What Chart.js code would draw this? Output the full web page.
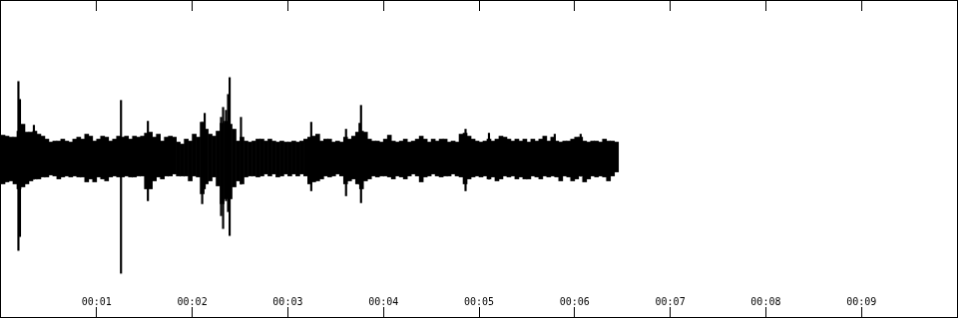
<!DOCTYPE html>
<html>
<head>
<meta charset="utf-8">
<script src="https://cdn.jsdelivr.net/npm/chart.js@4.4.0/dist/chart.umd.min.js"></script>
<style>
  html, body { margin: 0; padding: 0; background: #fff; }
  #wave { display: block; border: 1px solid #000; }
</style>
</head>
<body>
<canvas id="wave" width="958" height="318"></canvas>
<script>
// x axis: seconds, 0..10
const tickSeconds = [1, 2, 3, 4, 5, 6, 7, 8, 9];
const tickLabels = ['00:01', '00:02', '00:03', '00:04', '00:05', '00:06', '00:07', '00:08', '00:09'];

// waveform envelope, one bucket every 1/24 s (amplitude, full scale = 159)
const bucketSec = 1 / 24;
const envHigh = [
  24, 23, 22, 22, 28, 35, 27, 27, 28, 25,
  23, 20, 17, 18, 18, 20, 18, 17, 20, 22,
  20, 25, 23, 18, 20, 23, 22, 18, 20, 23,
  22, 23, 20, 23, 22, 23, 26, 27, 22, 25,
  18, 22, 23, 22, 17, 15, 20, 18, 25, 22,
  37, 30, 25, 23, 28, 36, 38, 35, 30, 18,
  22, 18, 17, 18, 20, 20, 18, 20, 18, 17,
  18, 17, 17, 18, 17, 18, 20, 22, 23, 25,
  18, 20, 20, 17, 18, 17, 22, 20, 23, 27,
  28, 27, 20, 18, 18, 17, 20, 24, 18, 17,
  18, 20, 17, 18, 20, 23, 20, 17, 20, 18,
  20, 20, 17, 18, 17, 25, 26, 23, 20, 18,
  17, 18, 20, 18, 20, 23, 22, 20, 18, 20,
  18, 20, 17, 20, 18, 20, 23, 18, 22, 18,
  17, 18, 18, 20, 22, 22, 18, 17, 18, 18,
  17, 20, 18, 18, 17
];
const envLow = [
  -25, -23, -22, -25, -30, -28, -25, -22, -20, -20,
  -18, -18, -16, -17, -20, -18, -17, -18, -17, -18,
  -18, -23, -20, -23, -18, -20, -22, -18, -17, -18,
  -18, -17, -18, -18, -17, -17, -30, -30, -22, -18,
  -20, -17, -17, -15, -17, -17, -17, -22, -17, -18,
  -35, -25, -22, -18, -27, -45, -40, -40, -28, -22,
  -25, -18, -17, -17, -18, -17, -15, -17, -15, -18,
  -17, -15, -17, -15, -17, -15, -17, -25, -23, -22,
  -20, -17, -18, -17, -15, -17, -25, -22, -20, -25,
  -30, -22, -20, -17, -18, -17, -17, -18, -20, -17,
  -18, -20, -17, -15, -17, -23, -18, -17, -15, -17,
  -18, -17, -17, -15, -17, -18, -25, -20, -18, -17,
  -18, -17, -20, -18, -22, -20, -17, -18, -17, -20,
  -18, -20, -20, -17, -18, -20, -17, -18, -17, -18,
  -22, -17, -18, -22, -20, -17, -23, -20, -17, -18,
  -17, -18, -22, -17, -13
];

// isolated peaks (clicks / transients)
const peakTimes = [0.182, 0.198, 0.344, 1.255, 1.536, 2.104, 2.130, 2.302, 2.323, 2.354, 2.375, 2.391, 2.510, 3.245, 3.609, 3.750, 3.766, 4.859, 5.104, 5.792, 6.063];
const peakHigh  = [78, 60, 34, 59, 38, 37, 46, 42, 52, 49, 65, 82, 42, 37, 30, 36, 54, 30, 26, 25, 25];
const peakLow   = [-92, -78, -20, -115, -42, -45, -30, -57, -70, -42, -53, -77, -25, -32, -37, -25, -44, -32, -20, -17, -17];

const envData = envHigh.map((h, i) => ({ x: (i + 0.5) * bucketSec, y: [envLow[i], h] }));
const peakData = peakTimes.map((t, i) => ({ x: t, y: [peakLow[i], peakHigh[i]] }));

// ticks drawn inward, no axis space taken
const tickAxis = (position, showLabels) => ({
  type: 'linear',
  position,
  min: 0,
  max: 10,
  offset: false,
  grid: { display: true, offset: false, drawOnChartArea: false, drawTicks: true, tickLength: -10, tickColor: '#000', tickWidth: 1 },
  border: { display: false },
  ticks: {
    display: showLabels,
    mirror: true,
    padding: 9,
    color: '#000',
    maxRotation: 0,
    autoSkip: false,
    font: { family: 'DejaVu Sans Mono', size: 10 },
    callback: (v, i) => tickLabels[i]
  },
  afterBuildTicks: s => { s.ticks = tickSeconds.map(v => ({ value: v })); },
  afterFit: s => { s.height = 0; s.paddingLeft = 0; s.paddingRight = 0; }
});

new Chart(document.getElementById('wave'), {
  type: 'bar',
  data: {
    datasets: [
      { label: 'peaks', data: peakData, backgroundColor: '#000', borderWidth: 0, barThickness: 1.5, grouped: false, xAxisID: 'x' },
      { label: 'wave', data: envData, backgroundColor: '#000', borderWidth: 0, barThickness: 4, grouped: false, xAxisID: 'x' }
    ]
  },
  options: {
    responsive: false,
    animation: false,
    layout: { padding: 0 },
    plugins: { legend: { display: false }, tooltip: { enabled: false } },
    scales: {
      x: tickAxis('bottom', true),
      xTop: tickAxis('top', false),
      y: { display: false, min: -159, max: 159 }
    }
  }
});
</script>
</body>
</html>
